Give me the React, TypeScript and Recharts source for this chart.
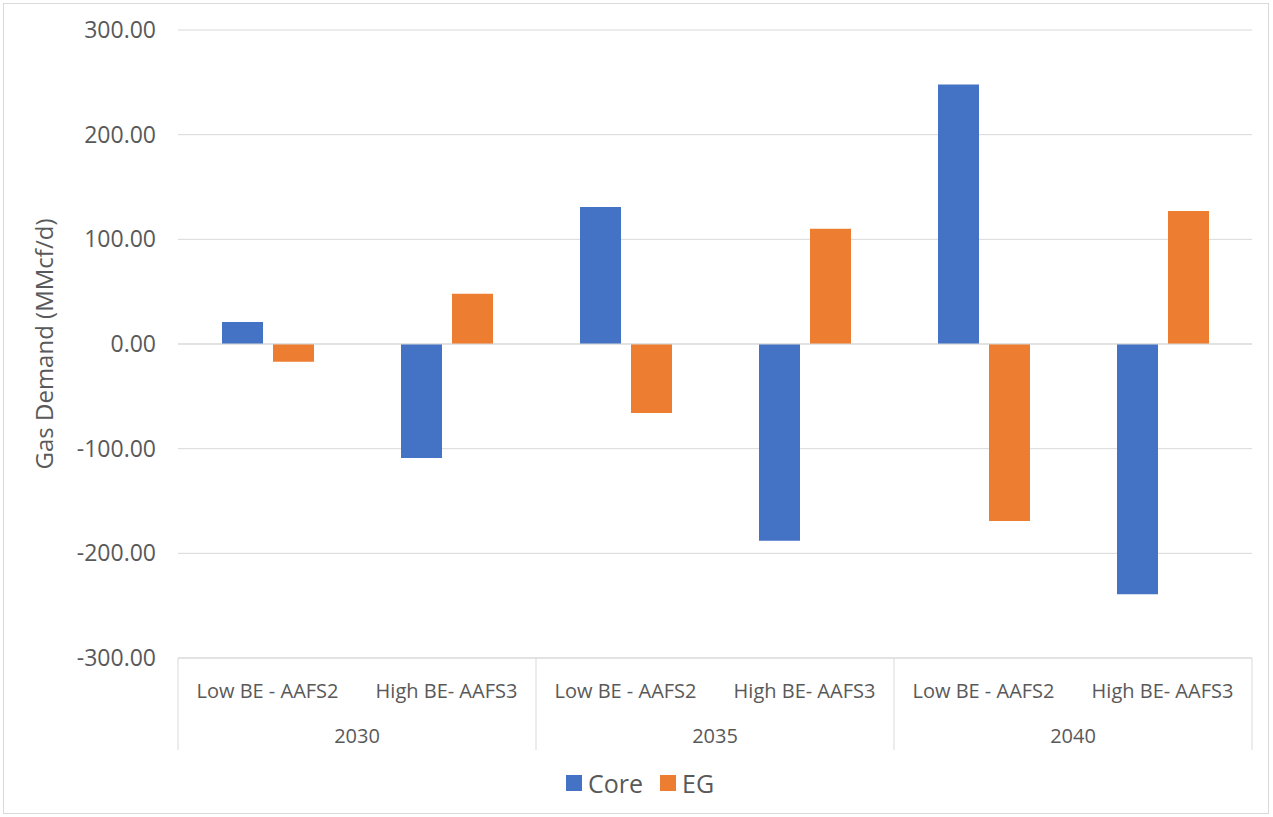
import React from "react";
import {
  BarChart,
  Bar,
  XAxis,
  YAxis,
  CartesianGrid,
  Legend,
  ReferenceLine,
} from "recharts";

const years = ["2030", "2030", "2035", "2035", "2040", "2040"];
const scenarios = [
  "Low BE - AAFS2",
  "High BE- AAFS3",
  "Low BE - AAFS2",
  "High BE- AAFS3",
  "Low BE - AAFS2",
  "High BE- AAFS3",
];
const core = [21, -109, 131, -188, 248, -239];
const eg = [-17, 48, -66, 110, -169, 127];
const yTicks = [-300, -200, -100, 0, 100, 200, 300];

const data = scenarios.map((s, i) => ({
  key: i,
  scenario: s,
  year: years[i],
  Core: core[i],
  EG: eg[i],
}));

const W = 1273;
const H = 817;
const MARGIN = { top: 30, right: 21, left: 0, bottom: 10 };
const Y_AXIS_W = 178;
const BAND = (W - MARGIN.left - MARGIN.right - Y_AXIS_W) / scenarios.length;
const GRID = "#D9D9D9";
const TEXT = "#595959";
const FONT = "'Open Sans', 'Noto Sans', sans-serif";

const ScenarioTick = (props: any) => {
  const { x, y, payload, index } = props;
  return (
    <g>
      <text
        x={x}
        y={y + 32}
        textAnchor="middle"
        dominantBaseline="central"
        fill={TEXT}
        fontSize={20}
        fontFamily={FONT}
      >
        {scenarios[payload.index ?? index] ?? payload.value}
      </text>
      {index % 2 === 0 && (
        <line x1={x - BAND / 2} x2={x - BAND / 2} y1={y} y2={y + 92} stroke={GRID} />
      )}
      {index === scenarios.length - 1 && (
        <line x1={x + BAND / 2} x2={x + BAND / 2} y1={y} y2={y + 92} stroke={GRID} />
      )}
    </g>
  );
};

const YearTick = (props: any) => {
  const { x, y, payload } = props;
  return (
    <text
      x={x}
      y={y + 27}
      textAnchor="middle"
      dominantBaseline="central"
      fill={TEXT}
      fontSize={20}
      fontFamily={FONT}
    >
      {payload.value}
    </text>
  );
};

const YLabel = (props: any) => {
  const cy = props.viewBox ? props.viewBox.y + props.viewBox.height / 2 : 344;
  return (
    <text
      x={43}
      y={cy}
      transform={`rotate(-90, 43, ${cy})`}
      textAnchor="middle"
      dominantBaseline="central"
      fill={TEXT}
      fontSize={24}
      fontFamily={FONT}
    >
      Gas Demand (MMcf/d)
    </text>
  );
};

const LegendContent = () => (
  <div
    style={{
      display: "flex",
      justifyContent: "center",
      alignItems: "center",
      height: 49,
      fontFamily: FONT,
      fontSize: 25,
      color: TEXT,
      paddingLeft: 28,
    }}
  >
    {[
      { name: "Core", color: "#4472C4" },
      { name: "EG", color: "#ED7D31" },
    ].map((it, i) => (
      <span
        key={it.name}
        style={{ display: "flex", alignItems: "center", marginLeft: i === 0 ? 0 : 17 }}
      >
        <span style={{ width: 16, height: 16, background: it.color, marginRight: 6 }} />
        {it.name}
      </span>
    ))}
  </div>
);

export default function App() {
  return (
    <div style={{ position: "absolute", left: 0, top: 0, width: W, height: H, background: "#fff" }}>
      <div
        style={{
          position: "absolute",
          left: 3,
          top: 3,
          width: W - 7,
          height: H - 6,
          border: `1px solid ${GRID}`,
          boxSizing: "border-box",
        }}
      />
      <BarChart
        width={W}
        height={H}
        data={data}
        margin={MARGIN}
        barSize={41}
        barGap={10}
      >
        <CartesianGrid vertical={false} stroke={GRID} />
        <XAxis
          dataKey="key"
          height={50}
          axisLine={{ stroke: GRID }}
          tickLine={false}
          tickSize={0}
          tickMargin={0}
          interval={0}
          tick={<ScenarioTick />}
        />
        <XAxis
          xAxisId="year"
          dataKey="year"
          allowDuplicatedCategory={false}
          height={50}
          axisLine={false}
          tickLine={false}
          tickSize={0}
          tickMargin={0}
          interval={0}
          tick={<YearTick />}
        />
        <YAxis
          width={Y_AXIS_W}
          domain={[-300, 300]}
          ticks={yTicks}
          tickFormatter={(v: number) => v.toFixed(2)}
          axisLine={false}
          tickLine={false}
          tickSize={0}
          tickMargin={22}
          tick={{ fill: TEXT, fontSize: 23, fontFamily: FONT }}
          label={<YLabel />}
        />
        <ReferenceLine y={0} stroke={GRID} />
        <Legend verticalAlign="bottom" height={49} content={<LegendContent />} />
        <Bar dataKey="Core" fill="#4472C4" isAnimationActive={false} />
        <Bar dataKey="EG" fill="#ED7D31" isAnimationActive={false} />
      </BarChart>
    </div>
  );
}
